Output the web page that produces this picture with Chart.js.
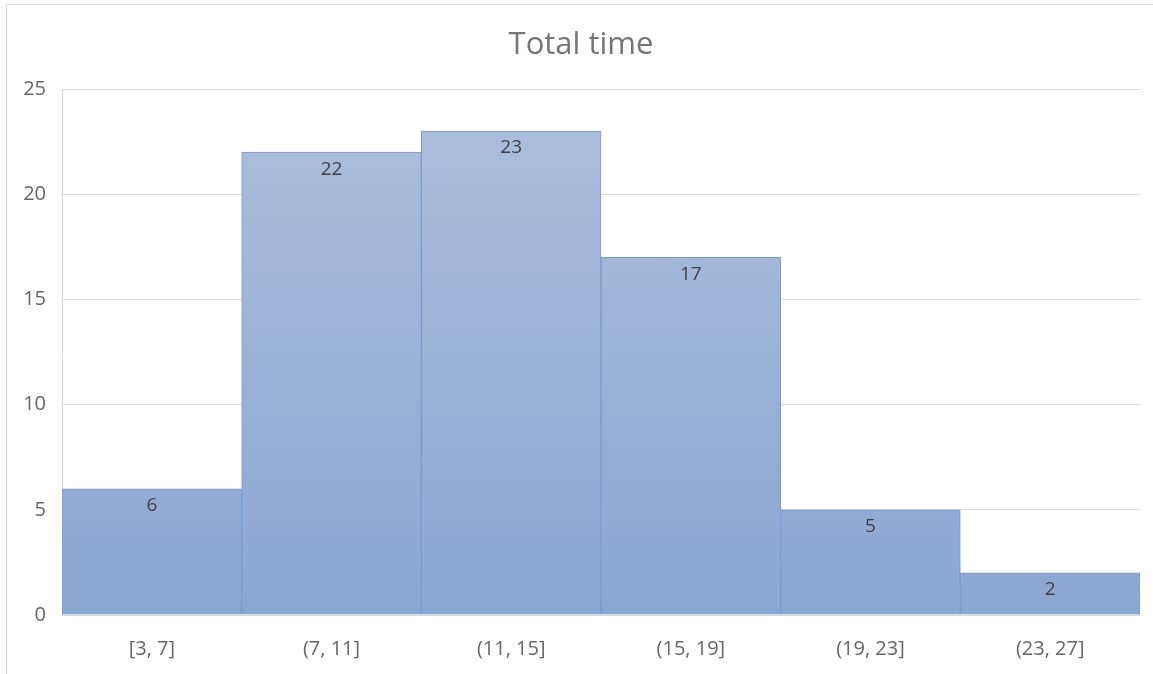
<!DOCTYPE html>
<html>
<head>
<meta charset="utf-8">
<script src="https://cdn.jsdelivr.net/npm/chart.js@4"></script>
<style>
  html, body { margin: 0; padding: 0; background: #fff; }
  #wrap { position: relative; width: 1153px; height: 674px; }
</style>
</head>
<body>
<div id="wrap"><canvas id="hist"></canvas></div>
<script>
// bins and counts
const binLabels = ["[3, 7]", "(7, 11]", "(11, 15]", "(15, 19]", "(19, 23]", "(23, 27]"];
const counts = [6, 22, 23, 17, 5, 2];
const chartTitle = "Total time";

const fontFamily = "'Open Sans', sans-serif";

// frame + title, drawn before the chart
const framePlugin = {
  id: "frame",
  beforeDraw(chart) {
    const ctx = chart.ctx;
    ctx.save();
    ctx.strokeStyle = "#d9d9d9";
    ctx.lineWidth = 1;
    ctx.strokeRect(6.5, 4.5, 1150, 680);
    ctx.fillStyle = "#757575";
    ctx.font = "31px " + fontFamily;
    ctx.textAlign = "center";
    ctx.textBaseline = "middle";
    ctx.fillText(chartTitle, 581, 45);
    ctx.restore();
  }
};

// value labels inside the top of each bar
const labelPlugin = {
  id: "barLabels",
  afterDatasetsDraw(chart) {
    const ctx = chart.ctx;
    const meta = chart.getDatasetMeta(0);
    ctx.save();
    ctx.fillStyle = "#404040";
    ctx.font = "19px " + fontFamily;
    ctx.textAlign = "center";
    ctx.textBaseline = "middle";
    meta.data.forEach((bar, i) => {
      ctx.fillText(String(counts[i]), bar.x, bar.y + 17);
    });
    ctx.restore();
  }
};

const ctxHist = document.getElementById("hist").getContext("2d");

const hist = new Chart(ctxHist, {
  type: "bar",
  data: {
    labels: binLabels,
    datasets: [{
      data: counts,
      backgroundColor: (c) => {
        const area = c.chart.chartArea;
        if (!area) return "#9bb2d8";
        const g = c.chart.ctx.createLinearGradient(0, area.top, 0, area.bottom);
        g.addColorStop(0, "#adbfdd");
        g.addColorStop(1, "#8aa6d2");
        return g;
      },
      borderColor: "#7b9bcd",
      borderWidth: 1,
      categoryPercentage: 1,
      barPercentage: 1
    }]
  },
  options: {
    responsive: true,
    maintainAspectRatio: false,
    animation: false,
    layout: { padding: { top: 89, right: 13, left: 0, bottom: 0 } },
    plugins: {
      legend: { display: false },
      title: { display: false },
      tooltip: { enabled: false }
    },
    scales: {
      x: {
        grid: { display: false, drawTicks: false },
        border: { display: true, color: "#d9d9d9", width: 1 },
        ticks: {
          color: "#666666",
          font: { family: fontFamily, size: 20 },
          padding: 22,
          maxRotation: 0
        },
        afterFit: (s) => { s.height = 59; }
      },
      y: {
        min: 0,
        max: 25,
        ticks: {
          stepSize: 5,
          color: "#666666",
          font: { family: fontFamily, size: 20 },
          padding: 16
        },
        grid: { color: "#d9d9d9", drawTicks: false },
        border: { display: true, color: "#d9d9d9", width: 1 },
        afterFit: (s) => { s.width = 62; }
      }
    }
  },
  plugins: [framePlugin, labelPlugin]
});
</script>
</body>
</html>
